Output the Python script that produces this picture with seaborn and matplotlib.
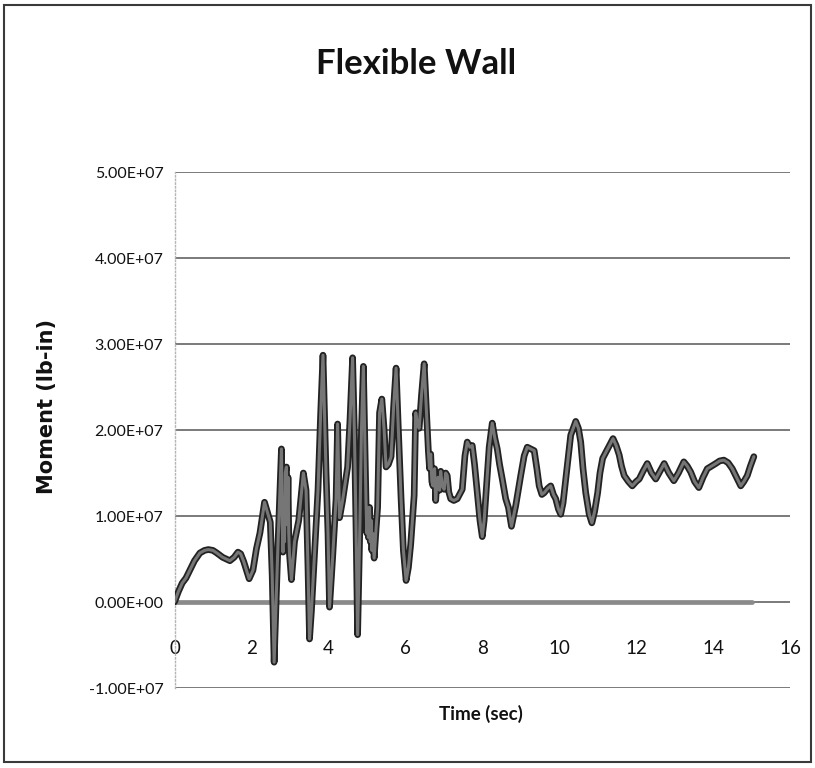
import numpy as np
import pandas as pd
import matplotlib
matplotlib.use("Agg")
import matplotlib.pyplot as plt
import matplotlib.patheffects as pe
from matplotlib.ticker import FuncFormatter
from matplotlib.patches import Rectangle
import seaborn as sns

# ---- data ----
time_s = [0.00, 0.10, 0.20, 0.30, 0.40, 0.52, 0.66, 0.78, 0.88, 1.00, 1.10, 1.25, 1.44, 1.55,
          1.65, 1.72, 1.80, 1.94, 2.04, 2.13, 2.22, 2.34, 2.43, 2.49, 2.54, 2.59, 2.64, 2.69,
          2.74, 2.78, 2.80, 2.82, 2.84, 2.86, 2.88, 2.91, 2.93, 2.95, 2.97, 2.99,
          3.04, 3.12, 3.23, 3.35, 3.42, 3.47, 3.51, 3.56,
          3.61, 3.73, 3.80, 3.86, 3.94, 3.99, 4.03, 4.11, 4.20, 4.24, 4.29, 4.37, 4.50, 4.56,
          4.63, 4.68, 4.72, 4.76, 4.82, 4.86, 4.91, 4.95, 4.98, 5.00, 5.02, 5.04, 5.07, 5.09,
          5.11, 5.13, 5.15, 5.19,
          5.24, 5.28, 5.33, 5.39, 5.45, 5.50, 5.56, 5.63, 5.70, 5.76, 5.82, 5.89, 5.95, 6.02,
          6.08, 6.14, 6.23, 6.27, 6.32, 6.36, 6.42, 6.49, 6.55, 6.60, 6.63, 6.66, 6.69, 6.72,
          6.76, 6.79, 6.82, 6.85, 6.89, 6.92, 6.96, 7.01, 7.05, 7.09, 7.13, 7.18, 7.26, 7.35,
          7.48, 7.55, 7.61, 7.68, 7.74, 7.80, 7.87, 7.94,
          8.00, 8.05, 8.10, 8.18, 8.26, 8.33, 8.39, 8.45, 8.52, 8.61, 8.68, 8.76, 8.87, 9.00,
          9.09, 9.17, 9.26, 9.35, 9.42, 9.48, 9.55, 9.61, 9.70, 9.78, 9.85, 9.91, 9.98, 10.04,
          10.10, 10.17, 10.30, 10.43, 10.50, 10.56, 10.62, 10.69, 10.78, 10.85, 10.92, 11.00,
          11.06, 11.13, 11.26, 11.40, 11.48, 11.56, 11.62, 11.69, 11.80, 11.90, 12.00, 12.08,
          12.18, 12.29, 12.40, 12.51, 12.62, 12.73, 12.85, 12.98, 13.10, 13.24, 13.33, 13.42,
          13.52, 13.63, 13.74, 13.85, 13.96, 14.07, 14.17, 14.28, 14.39, 14.50, 14.61, 14.72,
          14.80, 14.89, 14.97, 15.06]

moment_1e7 = [0.00, 0.12, 0.22, 0.28, 0.37, 0.48, 0.57, 0.60, 0.61, 0.60, 0.57, 0.52, 0.48, 0.52,
              0.58, 0.56, 0.47, 0.27, 0.37, 0.62, 0.80, 1.16, 1.02, 0.93, 0.30, -0.70, 0.00, 0.67,
              1.30, 1.78, 0.90, 0.58, 1.20, 0.70, 1.50, 1.57, 0.90, 1.45, 0.80, 0.55,
              0.26, 0.70, 0.95, 1.50, 1.30, 0.40, -0.43, -0.10,
              0.31, 1.30, 2.20, 2.87, 1.50, 0.80, -0.06, 0.51, 1.20, 2.07, 0.98, 1.18, 1.57, 2.10,
              2.84, 1.90, 0.83, -0.38, 0.91, 2.00, 2.74, 1.80, 1.14, 0.80, 1.10, 0.75, 1.10, 0.70,
              0.95, 0.60, 0.80, 0.51,
              0.85, 1.10, 2.20, 2.36, 2.00, 1.57, 1.60, 1.69, 2.30, 2.72, 2.00, 1.20, 0.60, 0.25,
              0.40, 0.67, 1.24, 2.20, 2.05, 2.02, 2.40, 2.77, 2.20, 1.75, 1.55, 1.72, 1.40, 1.35,
              1.55, 1.18, 1.40, 1.45, 1.30, 1.52, 1.35, 1.31, 1.50, 1.47, 1.28, 1.20, 1.18, 1.20,
              1.31, 1.70, 1.86, 1.80, 1.82, 1.60, 1.27, 0.95,
              0.76, 0.95, 1.27, 1.80, 2.08, 1.90, 1.78, 1.60, 1.43, 1.20, 1.10, 0.88, 1.12, 1.47,
              1.70, 1.80, 1.78, 1.76, 1.55, 1.35, 1.25, 1.27, 1.32, 1.35, 1.25, 1.20, 1.08, 1.02,
              1.15, 1.43, 1.94, 2.10, 2.02, 1.86, 1.55, 1.27, 1.02, 0.92, 1.05, 1.27,
              1.50, 1.67, 1.78, 1.90, 1.82, 1.71, 1.58, 1.47, 1.40, 1.35, 1.40, 1.43,
              1.52, 1.61, 1.50, 1.43, 1.52, 1.61, 1.50, 1.41, 1.50, 1.63, 1.58, 1.51,
              1.40, 1.33, 1.45, 1.55, 1.58, 1.61, 1.64, 1.65, 1.62, 1.55, 1.45, 1.35,
              1.40, 1.47, 1.58, 1.69]

zero_time_s = [0.0, 15.0]
zero_moment = [0.0, 0.0]

y_ticks = [-1e7, 0, 1e7, 2e7, 3e7, 4e7, 5e7]
x_ticks = [0, 2, 4, 6, 8, 10, 12, 14, 16]

title_text = "Flexible Wall"
x_label = "Time (sec)"
y_label = "Moment (lb-in)"

df = pd.DataFrame({"time": time_s, "moment": np.array(moment_1e7) * 1e7})
df_zero = pd.DataFrame({"time": zero_time_s, "moment": zero_moment})

# ---- style ----
sns.set_theme(style="white")
plt.rcParams["font.family"] = ["Lato", "DejaVu Sans"]

W, H = 815, 768
fig = plt.figure(figsize=(W / 100, H / 100), dpi=100)
fig.patch.set_facecolor("white")

x0, x1 = 174.5, 790.0
y_top, y_bot = 172.0, 688.0
ax = fig.add_axes([x0 / W, (H - y_bot) / H, (x1 - x0) / W, (y_bot - y_top) / H])
ax.set_facecolor("white")

# zero series (gray)
sns.lineplot(data=df_zero, x="time", y="moment", ax=ax, color="#8a8a8a", lw=3.4,
             zorder=3, legend=False)
# main series
sns.lineplot(data=df, x="time", y="moment", ax=ax, color="#767676", lw=2.2, zorder=4,
             legend=False, sort=False,
             path_effects=[pe.Stroke(linewidth=4.8, foreground="#222222"), pe.Normal()])

ax.set_xlim(0, 16)
ax.set_ylim(-1e7, 5e7)
ax.set_yticks(y_ticks)
ax.set_xticks(x_ticks)
ax.yaxis.set_major_formatter(FuncFormatter(lambda v, p: f"{v:.2E}"))
ax.xaxis.set_major_formatter(FuncFormatter(lambda v, p: f"{int(v)}"))

ax.grid(axis="y", color="#7a7a7a", lw=1.4, zorder=1)
ax.grid(axis="x", visible=False)
ax.set_axisbelow(True)

for s in ["top", "right"]:
    ax.spines[s].set_visible(False)
ax.spines["bottom"].set_position(("data", 0))
ax.spines["bottom"].set_visible(False)
ax.spines["left"].set_color("#b5b5b5")
ax.spines["left"].set_linestyle(":")
ax.spines["left"].set_linewidth(1.0)

ax.tick_params(axis="y", length=0, pad=8, labelsize=11.5, labelcolor="#111111")
ax.tick_params(axis="x", length=0, pad=27, labelsize=13.5, labelcolor="#111111")

ax.set_xlabel("")
ax.set_ylabel("")

fig.text(416 / W, 1 - 64 / H, title_text, ha="center", va="center",
         fontsize=25, fontweight="bold", color="#111111")
fig.text(481 / W, 1 - 714 / H, x_label, ha="center", va="center",
         fontsize=13.5, fontweight="bold", color="#111111")
fig.text(47 / W, 1 - 406 / H, y_label, ha="center", va="center", rotation=90,
         fontsize=15, fontweight="bold", color="#111111", family=["DejaVu Sans"])

# chart border
fig.add_artist(Rectangle((4 / W, 1 - 762 / H), (811 - 4) / W, (762 - 5) / H,
                         transform=fig.transFigure, fill=False, edgecolor="#3a3a3a",
                         lw=1.5))

fig.savefig("out.png", dpi=100, facecolor="white")
